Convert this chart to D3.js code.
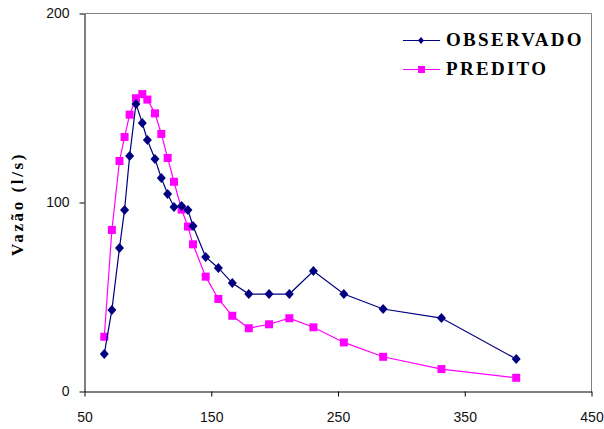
<!DOCTYPE html>
<html>
<head>
<meta charset="utf-8">
<script src="https://cdn.jsdelivr.net/npm/d3@7"></script>
<style>
  body { margin: 0; background: #fff; }
  svg { display: block; }
</style>
</head>
<body>
<div id="chart"></div>
<script>
// tempo (eixo x), compartilhado pelas duas series
var tempo = [66, 72, 78, 82, 86, 91, 96, 100, 106, 111, 116, 121, 127, 132, 136, 146, 156, 167, 180, 196, 212, 231, 255, 286, 332, 391];
var observado = [19.6, 42.9, 75.7, 95.8, 124.3, 151.9, 141.8, 132.8, 122.8, 112.7, 104.2, 97.4, 97.9, 95.8, 87.3, 70.9, 65.1, 57.1, 51.3, 51.3, 51.3, 63.5, 51.3, 43.4, 38.6, 16.9];
var predito = [28.7, 85.2, 121.7, 134.4, 146.2, 154.9, 157.1, 154.2, 146.9, 136.0, 123.3, 110.7, 96.0, 87.0, 77.6, 60.5, 48.7, 39.8, 33.2, 35.3, 38.5, 33.7, 25.7, 18.1, 11.6, 7.0];
var xTicks = [50, 150, 250, 350, 450];
var yTicks = [0, 100, 200];

var W = 604, H = 429;
var mLeft = 84, mRight = 591, mTop = 13, mBottom = 391;

var svg = d3.select('#chart').append('svg')
  .attr('width', W).attr('height', H);

var x = d3.scaleLinear().domain([50, 450]).range([mLeft, mRight]);
var y = d3.scaleLinear().domain([0, 200]).range([mBottom, mTop]);

// borda da area de plotagem (cinza, topo e direita)
svg.append('path')
  .attr('d', 'M' + (mLeft + 0.5) + ',' + (mTop + 0.5) + 'H' + (mRight + 0.5) + 'V' + (mBottom + 0.5))
  .attr('fill', 'none')
  .attr('stroke', '#808080')
  .attr('stroke-width', 1);

svg.append('g')
  .attr('transform', 'translate(0.5,' + (mBottom + 0.5) + ')')
  .call(d3.axisBottom(x).tickValues(xTicks).tickSize(5).tickSizeOuter(0).tickPadding(16));

svg.append('g')
  .attr('transform', 'translate(' + (mLeft + 0.5) + ',0.5)')
  .call(d3.axisLeft(y).tickValues(yTicks).tickSize(5).tickSizeOuter(0).tickPadding(10));

svg.selectAll('.domain').attr('stroke', '#000');
svg.selectAll('.tick line').attr('stroke', '#000');
svg.selectAll('.tick text')
  .style('font-family', '"Liberation Sans", Arial, sans-serif')
  .style('font-size', '14px')
  .attr('fill', '#111');

svg.append('text')
  .text('Vazão (l/s)')
  .attr('transform', 'translate(23,204) rotate(-90)')
  .attr('text-anchor', 'middle')
  .style('letter-spacing', '2.6px')
  .style('font-family', '"Liberation Serif", "Times New Roman", serif')
  .style('font-weight', 'bold')
  .style('font-size', '17px');

var line = d3.line()
  .x(function(d, i) { return x(tempo[i]); })
  .y(function(d) { return y(d); });

// PREDITO
svg.append('path')
  .datum(predito)
  .attr('d', line)
  .attr('fill', 'none')
  .attr('stroke', '#ff00ff')
  .attr('stroke-width', 1.2);

svg.selectAll('.sq')
  .data(predito).enter().append('rect')
  .attr('class', 'sq')
  .attr('x', function(d, i) { return x(tempo[i]) - 4; })
  .attr('y', function(d) { return y(d) - 4; })
  .attr('width', 8).attr('height', 8)
  .attr('fill', '#ff00ff');

// OBSERVADO
svg.append('path')
  .datum(observado)
  .attr('d', line)
  .attr('fill', 'none')
  .attr('stroke', '#000080')
  .attr('stroke-width', 1.2);

var diamond = 'M0,-5L4.5,0L0,5L-4.5,0Z';
svg.selectAll('.dm')
  .data(observado).enter().append('path')
  .attr('class', 'dm')
  .attr('d', diamond)
  .attr('transform', function(d, i) { return 'translate(' + x(tempo[i]) + ',' + y(d) + ')'; })
  .attr('fill', '#000080');

// legenda
var legend = [
  {name: 'OBSERVADO', color: '#000080', sym: 'diamond', y: 40},
  {name: 'PREDITO', color: '#ff00ff', sym: 'square', y: 69}
];

legend.forEach(function(l) {
  svg.append('line')
    .attr('x1', 403).attr('x2', 440)
    .attr('y1', l.y + 0.5).attr('y2', l.y + 0.5)
    .attr('stroke', l.color).attr('stroke-width', 1.2);
  if (l.sym === 'diamond') {
    svg.append('path').attr('d', 'M0,-3.5L3,0L0,3.5L-3,0Z')
      .attr('transform', 'translate(421,' + (l.y + 0.5) + ')')
      .attr('fill', l.color);
  } else {
    svg.append('rect')
      .attr('x', 418).attr('y', l.y - 3)
      .attr('width', 7).attr('height', 7)
      .attr('fill', l.color);
  }
  svg.append('text')
    .text(l.name)
    .attr('x', 446).attr('y', l.y + 6)
    .style('letter-spacing', '2.3px')
    .style('font-family', '"Liberation Serif", "Times New Roman", serif')
    .style('font-weight', 'bold')
    .style('font-size', '19px');
});
</script>
</body>
</html>
